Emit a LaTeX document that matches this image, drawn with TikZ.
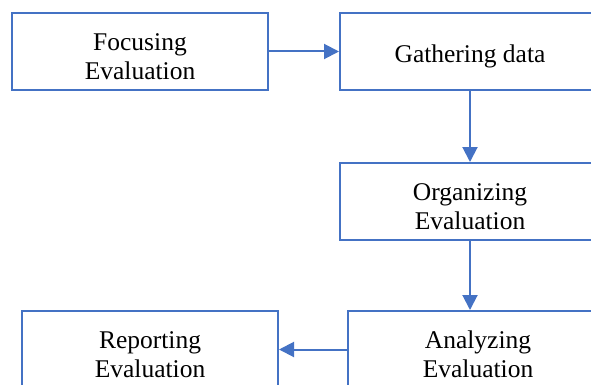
\documentclass[tikz,border=0pt]{standalone}
\usepackage{fontspec}
\setmainfont{Liberation Serif}
\usetikzlibrary{arrows.meta,positioning,calc}
\definecolor{boxblue}{HTML}{4472C4}

\begin{document}
\begin{tikzpicture}[x=1pt, y=1pt, >={Triangle[length=15pt,width=15pt]},
  stage/.style={draw=boxblue, line width=2pt, minimum height=77pt,
    align=center, font=\fontsize{25.5}{29.5}\selectfont, text height=57pt},
  oneline/.style={text height=28pt},
  flow/.style={->, draw=boxblue, fill=boxblue, line width=2pt}]
  % рамка картинки
  \useasboundingbox (0,0) rectangle (591,-385);
  \clip (0,0) rectangle (591,-385);

  % этапы
  \node[stage, minimum width=256pt] (focus)    at (140,-51.5)  {Focusing\\Evaluation};
  \node[stage, oneline, minimum width=260pt] (gather) at (470,-51.5) {Gathering data};
  \node[stage, minimum width=260pt] (organize) at (470,-201.5) {Organizing\\Evaluation};
  \node[stage, minimum width=260pt] (analyze)  at (478,-349.5) {Analyzing\\Evaluation};
  \node[stage, minimum width=256pt] (report)   at (150,-349.5) {Reporting\\Evaluation};

  % стрелки
  \draw[flow] (focus.east) -- (gather.west);
  \draw[flow] (gather.south) -- (organize.north);
  \draw[flow] (organize.south) -- (organize.south |- analyze.north);
  \draw[flow] (analyze.west) -- (report.east);
\end{tikzpicture}
\end{document}
